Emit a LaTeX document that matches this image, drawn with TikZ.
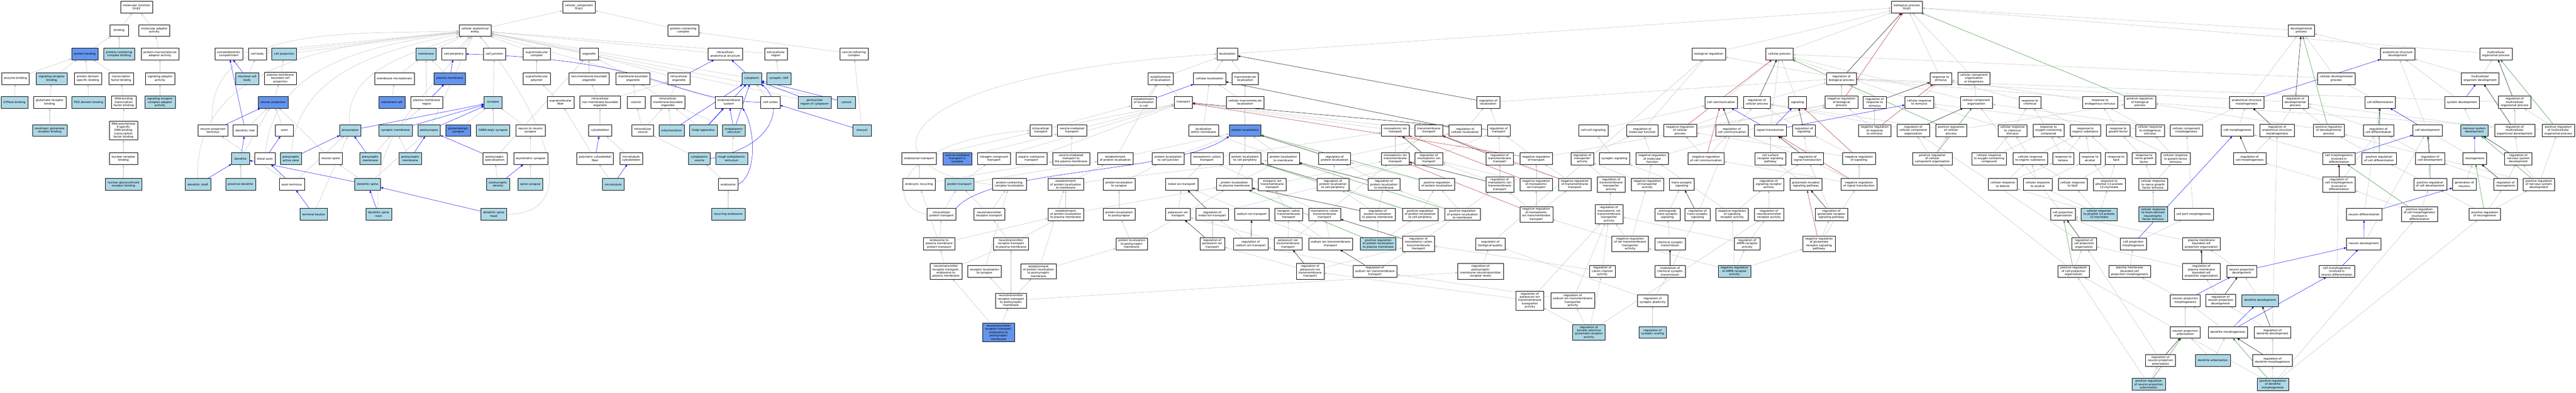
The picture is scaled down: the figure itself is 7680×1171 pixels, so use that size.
\documentclass[tikz,border=0pt]{standalone}
\usepackage{fontspec}
\setmainfont{DejaVu Sans}
\usetikzlibrary{arrows.meta,shadows}
\definecolor{lblue}{HTML}{ADD8E6}
\definecolor{cblue}{HTML}{6495ED}
\definecolor{egrey}{HTML}{C0C0C0}
\definecolor{ered}{HTML}{B22222}
\definecolor{egreen}{HTML}{228B22}
\definecolor{eblue}{HTML}{0000FF}
\pgfdeclarelayer{bg}
\pgfdeclarelayer{canvas}
\pgfsetlayers{canvas,bg,main}
\tikzset{
 bx/.style={draw=black,line width=0.6pt,align=center,font=\fontsize{8.5}{9.8}\selectfont,inner xsep=7pt,inner ysep=4.5pt,minimum height=35pt,minimum width=54pt,drop shadow={shadow xshift=1.2pt,shadow yshift=-1.2pt,fill=black!60,opacity=0.7}},
 bxw/.style={bx,fill=white},
 bxl/.style={bx,fill=lblue},
 bxc/.style={bx,fill=cblue},
 rel/.style={line width=0.75pt,-{Triangle[length=7pt,width=5.5pt]}},
 isa/.style={rel,draw=egrey},
 partof/.style={rel,draw=eblue},
 regl/.style={rel,draw=black},
 negr/.style={rel,draw=ered},
 posr/.style={rel,draw=egreen}
}
\begin{document}
\begin{tikzpicture}[x=1pt,y=-1pt]
\begin{pgfonlayer}{canvas}
\fill[white] (0,0) rectangle (7680,1171);
\end{pgfonlayer}
\useasboundingbox (0,0) rectangle (7680,1171);
% ---------------- molecular function
\node[bxw] (mf) at (407,21) {molecular\_function\\Grip1};
\node[bxw] (binding) at (355,91) {binding};
\node[bxw] (molad) at (460,91) {molecular adaptor\\activity};
\node[bxc] (protb) at (253,161) {protein binding};
\node[bxl] (pccb) at (355,161) {protein-containing\\complex binding};
\node[bxw] (pmaa) at (477,161) {protein-macromolecule\\adaptor activity};
\node[bxw] (enzb) at (46,234) {enzyme binding};
\node[bxl] (sigrb) at (154,234) {signaling receptor\\binding};
\node[bxw] (pdsb) at (262,234) {protein domain\\specific binding};
\node[bxw] (tfb) at (361,234) {transcription\\factor binding};
\node[bxw] (sigad) at (477,234) {signaling adaptor\\activity};
\node[bxl] (gtpb) at (43,305) {GTPase binding};
\node[bxw] (glurb) at (148,305) {glutamate receptor\\binding};
\node[bxl] (pdzb) at (264,305) {PDZ domain binding};
\node[bxw] (dbtfb) at (369,305) {DNA-binding\\transcription\\factor binding};
\node[bxl] (srcaa) at (477,305) {signaling receptor\\complex adaptor\\activity};
\node[bxl] (iglurb) at (148,389) {ionotropic glutamate\\receptor binding};
\node[bxw] (rnapol) at (368,389) {RNA polymerase\\II-specific\\DNA-binding\\transcription\\factor binding};
\node[bxw] (nrb) at (368,473) {nuclear receptor\\binding};
\node[bxl] (ngrb) at (368,550) {nuclear glucocorticoid\\receptor binding};
% ---------------- cellular component
\node[bxw] (cc) at (1726,21) {cellular\_component\\Grip1};
\node[bxw] (cae) at (1416,91) {cellular anatomical\\entity};
\node[bxw] (pcc) at (2037,91) {protein-containing\\complex};
\node[bxw] (somato) at (682,161) {somatodendritic\\compartment};
\node[bxw] (cellbody) at (767,161) {cell body};
\node[bxl] (cellproj) at (847,161) {cell projection};
\node[bxl] (membrane) at (1270,161) {membrane};
\node[bxw] (cellper) at (1353,161) {cell periphery};
\node[bxw] (celljunc) at (1474,161) {cell junction};
\node[bxw] (smcomplex) at (1600,161) {supramolecular\\complex};
\node[bxw] (organelle) at (1756,161) {organelle};
\node[bxw] (ias) at (2162,161) {intracellular\\anatomical structure};
\node[bxw] (extreg) at (2313,161) {extracellular\\region};
\node[bxw] (vtc) at (2546,161) {vesicle tethering\\complex};
\node[bxl] (ncb) at (737,234) {neuronal cell\\body};
\node[bxw] (pmbcp) at (836,234) {plasma membrane\\bounded cell\\projection};
\node[bxw] (memmicro) at (1176,234) {membrane microdomain};
\node[bxc] (pm) at (1341,234) {plasma membrane};
\node[bxw] (smpoly) at (1600,234) {supramolecular\\polymer};
\node[bxw] (nmbo) at (1756,234) {non-membrane-bounded\\organelle};
\node[bxw] (mbo) at (1887,234) {membrane-bounded\\organelle};
\node[bxw] (intorg) at (2024,234) {intracellular\\organelle};
\node[bxl] (cytoplasm) at (2241,234) {cytoplasm};
\node[bxl] (syncleft) at (2322,234) {synaptic cleft};
\node[bxc] (neuproj) at (814,305) {neuron projection};
\node[bxc] (memraft) at (1168,305) {membrane raft};
\node[bxw] (pmreg) at (1272,305) {plasma membrane\\region};
\node[bxl] (synapse) at (1470,305) {synapse};
\node[bxw] (smfiber) at (1671,305) {supramolecular\\fiber};
\node[bxw] (inmbo) at (1789,305) {intracellular\\non-membrane-bounded\\organelle};
\node[bxw] (vesicle) at (1896,305) {vesicle};
\node[bxw] (imbo) at (1991,305) {intracellular\\membrane-bounded\\organelle};
\node[bxw] (endomem) at (2173,305) {endomembrane\\system};
\node[bxw] (cellcortex) at (2297,305) {cell cortex};
\node[bxl] (perinuc) at (2429,305) {perinuclear\\region of cytoplasm};
\node[bxl] (cytosol) at (2523,305) {cytosol};
\node[bxw] (npterm) at (635,389) {neuron projection\\terminus};
\node[bxw] (dtree) at (731,389) {dendritic tree};
\node[bxw] (axon) at (848,389) {axon};
\node[bxl] (presyn) at (1044,389) {presynapse};
\node[bxl] (synmem) at (1179,389) {synaptic membrane};
\node[bxl] (postsyn) at (1279,389) {postsynapse};
\node[bxc] (gluts) at (1366,389) {glutamatergic\\synapse};
\node[bxl] (gabas) at (1470,389) {GABA-ergic synapse};
\node[bxw] (n2ns) at (1581,389) {neuron to neuron\\synapse};
\node[bxw] (cytoskel) at (1789,389) {cytoskeleton};
\node[bxw] (intves) at (1916,389) {intracellular\\vesicle};
\node[bxl] (mito) at (2002,389) {mitochondrion};
\node[bxl] (golgi) at (2097,389) {Golgi apparatus};
\node[bxl] (er) at (2188,389) {endoplasmic\\reticulum};
\node[bxl] (exocyst) at (2570,389) {exocyst};
\node[bxl] (dendrite) at (717,473) {dendrite};
\node[bxw] (distaxon) at (790,473) {distal axon};
\node[bxl] (paz) at (867,473) {presynaptic\\active zone};
\node[bxw] (nspine) at (986,473) {neuron spine};
\node[bxl] (presynmem) at (1104,473) {presynaptic\\membrane};
\node[bxl] (postsynmem) at (1223,473) {postsynaptic\\membrane};
\node[bxw] (pss) at (1475,473) {postsynaptic\\specialization};
\node[bxw] (asyms) at (1582,473) {asymmetric synapse};
\node[bxw] (pcf) at (1774,473) {polymeric cytoskeletal\\fiber};
\node[bxw] (mtcs) at (1882,473) {microtubule\\cytoskeleton};
\node[bxl] (cytves) at (2085,473) {cytoplasmic\\vesicle};
\node[bxl] (rer) at (2181,473) {rough endoplasmic\\reticulum};
\node[bxl] (dshaft) at (590,550) {dendritic shaft};
\node[bxl] (proxd) at (717,550) {proximal dendrite};
\node[bxw] (axterm) at (870,550) {axon terminus};
\node[bxl] (dspine) at (1096,550) {dendritic spine};
\node[bxl] (psd) at (1485,550) {postsynaptic\\density};
\node[bxl] (spines) at (1581,550) {spine synapse};
\node[bxl] (microtub) at (1828,550) {microtubule};
\node[bxw] (endosome) at (2171,550) {endosome};
\node[bxl] (tbouton) at (935,639) {terminal bouton};
\node[bxl] (dsneck) at (1129,639) {dendritic spine\\neck};
\node[bxl] (dshead) at (1472,639) {dendritic spine\\head};
\node[bxl] (recendo) at (2171,639) {recycling endosome};
% ---------------- biological process
\node[bxw] (bp) at (5685,21) {biological\_process\\Grip1};
\node[bxw] (devproc) at (6861,91) {developmental\\process};
\node[bxw] (localization) at (3659,161) {localization};
\node[bxw] (bioreg) at (5094,161) {biological regulation};
\node[bxw] (cellproc) at (5305,161) {cellular process};
\node[bxw] (asdev) at (7148,161) {anatomical structure\\development};
\node[bxw] (mcop) at (7441,161) {multicellular\\organismal process};
\node[bxw] (estloc) at (3460,234) {establishment\\of localization};
\node[bxw] (cellloc) at (3606,234) {cellular localization};
\node[bxw] (macroloc) at (3712,234) {macromolecule\\localization};
\node[bxw] (regbp) at (5490,234) {regulation of\\biological process};
\node[bxw] (respstim) at (5786,234) {response to\\stimulus};
\node[bxw] (ccob) at (5885,234) {cellular component\\organization\\or biogenesis};
\node[bxw] (celldev) at (6965,234) {cellular developmental\\process};
\node[bxw] (mcod) at (7394,234) {multicellular\\organism development};
\node[bxw] (elic) at (3410,305) {establishment\\of localization\\in cell};
\node[bxw] (transport) at (3528,305) {transport};
\node[bxw] (cmloc) at (3712,305) {cellular macromolecule\\localization};
\node[bxw] (regloc) at (4437,305) {regulation of\\localization};
\node[bxw] (cellcomm) at (5131,305) {cell communication};
\node[bxw] (regcp) at (5238,305) {regulation of\\cellular process};
\node[bxw] (signaling) at (5359,305) {signaling};
\node[bxw] (nregbp) at (5490,305) {negative regulation\\of biological\\process};
\node[bxw] (regrs) at (5589,305) {regulation of\\response to\\stimulus};
\node[bxw] (cellrs) at (5722,305) {cellular response\\to stimulus};
\node[bxw] (cco) at (5892,305) {cellular component\\organization};
\node[bxw] (respchem) at (6052,305) {response to\\chemical};
\node[bxw] (respendo) at (6261,305) {response to\\endogenous stimulus};
\node[bxw] (pregbp) at (6380,305) {positive regulation\\of biological\\process};
\node[bxw] (asmorph) at (6698,305) {anatomical structure\\morphogenesis};
\node[bxw] (regdp) at (6843,305) {regulation of\\developmental\\process};
\node[bxw] (celldiff) at (7096,305) {cell differentiation};
\node[bxw] (sysdev) at (7340,305) {system development};
\node[bxw] (regmop) at (7497,305) {regulation of\\multicellular\\organismal process};
\node[bxw] (intrans) at (3103,389) {intracellular\\transport};
\node[bxw] (vmt) at (3196,389) {vesicle-mediated\\transport};
\node[bxw] (locwm) at (3588,389) {localization\\within membrane};
\node[bxc] (protloc) at (3712,389) {protein localization};
\node[bxw] (miont) at (4160,389) {monoatomic ion\\transport};
\node[bxw] (tmt) at (4260,389) {transmembrane\\transport};
\node[bxw] (regcl) at (4368,389) {regulation of\\cellular localization};
\node[bxw] (regtr) at (4468,389) {regulation of\\transport};
\node[bxw] (ccsig) at (4750,389) {cell-cell signaling};
\node[bxw] (regmf) at (4896,389) {regulation of\\molecular function};
\node[bxw] (nregcp) at (5009,389) {negative regulation\\of cellular\\process};
\node[bxw] (regcc) at (5163,389) {regulation of\\cell communication};
\node[bxw] (sigtrans) at (5278,389) {signal transduction};
\node[bxw] (regsig) at (5378,389) {regulation of\\signaling};
\node[bxw] (nregrs) at (5589,389) {negative regulation\\of response\\to stimulus};
\node[bxw] (regcco) at (5704,389) {regulation of\\cellular component\\organization};
\node[bxw] (pregcp) at (5817,389) {positive regulation\\of cellular\\process};
\node[bxw] (crchem) at (6000,389) {cellular response\\to chemical\\stimulus};
\node[bxw] (respoxy) at (6107,389) {response to\\oxygen-containing\\compound};
\node[bxw] (resporg) at (6217,389) {response to\\organic substance};
\node[bxw] (respgf) at (6315,389) {response to\\growth factor};
\node[bxw] (crendo) at (6410,389) {cellular response\\to endogenous\\stimulus};
\node[bxw] (ccmorph) at (6518,389) {cellular component\\morphogenesis};
\node[bxw] (cellmorph) at (6671,389) {cell morphogenesis};
\node[bxw] (regasm) at (6789,389) {regulation of\\anatomical structure\\morphogenesis};
\node[bxw] (pregdp) at (6943,389) {positive regulation\\of developmental\\process};
\node[bxw] (regcdiff) at (7091,389) {regulation of\\cell differentiation};
\node[bxw] (celldevt) at (7237,389) {cell development};
\node[bxl] (nsd) at (7377,389) {nervous system\\development};
\node[bxw] (regmod) at (7497,389) {regulation of\\multicellular\\organismal development};
\node[bxw] (pregmop) at (7627,389) {positive regulation\\of multicellular\\organismal process};
\node[bxw] (endot) at (2740,473) {endosomal transport};
\node[bxc] (vmtsyn) at (2854,473) {vesicle-mediated\\transport in\\synapse};
\node[bxw] (nct) at (2963,473) {nitrogen compound\\transport};
\node[bxw] (ost) at (3075,473) {organic substance\\transport};
\node[bxw] (vmtpm) at (3193,473) {vesicle-mediated\\transport to\\the plasma membrane};
\node[bxw] (epl) at (3325,473) {establishment\\of protein localization};
\node[bxw] (plcj) at (3483,473) {protein localization\\to cell junction};
\node[bxw] (mcat) at (3598,473) {monoatomic cation\\transport};
\node[bxw] (plcp) at (3712,473) {protein localization\\to cell periphery};
\node[bxw] (plmem) at (3826,473) {protein localization\\to membrane};
\node[bxw] (regpl) at (3979,473) {regulation of\\protein localization};
\node[bxw] (miontm) at (4160,473) {monoatomic ion\\transmembrane\\transport};
\node[bxw] (regmiont) at (4260,473) {regulation of\\monoatomic ion\\transport};
\node[bxw] (regtmt) at (4471,473) {regulation of\\transmembrane\\transport};
\node[bxw] (nregtr) at (4580,473) {negative regulation\\of transport};
\node[bxw] (regtra) at (4717,473) {regulation of\\transporter\\activity};
\node[bxw] (synsig) at (4813,473) {synaptic signaling};
\node[bxw] (nregmf) at (4926,473) {negative regulation\\of molecular\\function};
\node[bxw] (nregcc) at (5086,473) {negative regulation\\of cell communication};
\node[bxw] (csrsp) at (5278,473) {cell surface\\receptor signaling\\pathway};
\node[bxw] (regst) at (5389,473) {regulation of\\signal transduction};
\node[bxw] (nregsig) at (5542,473) {negative regulation\\of signaling};
\node[bxw] (pregcco) at (5761,473) {positive regulation\\of cellular\\component organization};
\node[bxw] (croxy) at (5930,473) {cellular response\\to oxygen-containing\\compound};
\node[bxw] (crorg) at (6053,473) {cellular response\\to organic substance};
\node[bxw] (respket) at (6151,473) {response to\\ketone};
\node[bxw] (respalc) at (6231,473) {response to\\alcohol};
\node[bxw] (resplip) at (6309,473) {response to\\lipid};
\node[bxw] (respngf) at (6392,473) {response to\\nerve growth\\factor};
\node[bxw] (crgf) at (6486,473) {cellular response\\to growth factor\\stimulus};
\node[bxw] (regcm) at (6707,473) {regulation of\\cell morphogenesis};
\node[bxw] (cmid) at (6973,473) {cell morphogenesis\\involved in\\differentiation};
\node[bxw] (pregcdiff) at (7093,473) {positive regulation\\of cell differentiation};
\node[bxw] (regcdev) at (7245,473) {regulation of\\cell development};
\node[bxw] (neurogen) at (7378,473) {neurogenesis};
\node[bxw] (regnsd) at (7508,473) {regulation of\\nervous system\\development};
\node[bxw] (endorec) at (2740,550) {endocytic recycling};
\node[bxl] (prottr) at (2860,550) {protein transport};
\node[bxw] (pccloc) at (3009,550) {protein-containing\\complex localization};
\node[bxw] (epltm) at (3177,550) {establishment\\of protein localization\\to membrane};
\node[bxw] (plsyn) at (3336,550) {protein localization\\to synapse};
\node[bxw] (metaliont) at (3523,550) {metal ion transport};
\node[bxw] (plpm) at (3680,550) {protein localization\\to plasma membrane};
\node[bxw] (iontm) at (3793,550) {inorganic ion\\transmembrane\\transport};
\node[bxw] (regplcp) at (3974,550) {regulation of\\protein localization\\to cell periphery};
\node[bxw] (regplm) at (4126,550) {regulation of\\protein localization\\to membrane};
\node[bxw] (pregpl) at (4284,550) {positive regulation\\of protein localization};
\node[bxw] (regmiontm) at (4471,550) {regulation of\\monoatomic ion\\transmembrane\\transport};
\node[bxw] (nregmiont) at (4580,550) {negative regulation\\of monoatomic\\ion transport};
\node[bxw] (nregtmt) at (4695,550) {negative regulation\\of transmembrane\\transport};
\node[bxw] (regtmta) at (4803,550) {regulation of\\transmembrane\\transporter\\activity};
\node[bxw] (nregta) at (4911,550) {negative regulation\\of transporter\\activity};
\node[bxw] (tss) at (5014,550) {trans-synaptic\\signaling};
\node[bxw] (regsra) at (5273,550) {regulation of\\signaling receptor\\activity};
\node[bxw] (glursp) at (5384,550) {glutamate receptor\\signaling pathway};
\node[bxw] (nregst) at (5542,550) {negative regulation\\of signal transduction};
\node[bxw] (crket) at (5971,550) {cellular response\\to ketone};
\node[bxw] (cralc) at (6075,550) {cellular response\\to alcohol};
\node[bxw] (crlip) at (6179,550) {cellular response\\to lipid};
\node[bxw] (respptm) at (6288,550) {response to\\phorbol 13-acetate\\12-myristate};
\node[bxw] (crngf) at (6419,550) {cellular response\\to nerve growth\\factor stimulus};
\node[bxw] (regcmid) at (6973,550) {regulation of\\cell morphogenesis\\involved in\\differentiation};
\node[bxw] (pregcdev) at (7245,550) {positive regulation\\of cell development};
\node[bxw] (genneur) at (7347,550) {generation of\\neurons};
\node[bxw] (regneurog) at (7470,550) {regulation of\\neurogenesis};
\node[bxw] (pregnsd) at (7569,550) {positive regulation\\of nervous system\\development};
\node[bxw] (intpt) at (2807,639) {intracellular\\protein transport};
\node[bxw] (ntrt) at (2949,639) {neurotransmitter\\receptor transport};
\node[bxw] (eplpm) at (3177,639) {establishment\\of protein localization\\to plasma membrane};
\node[bxw] (plps) at (3336,639) {protein localization\\to postsynapse};
\node[bxw] (kiont) at (3512,639) {potassium ion\\transport};
\node[bxw] (regmetal) at (3614,639) {regulation of\\metal ion transport};
\node[bxw] (naiont) at (3732,639) {sodium ion transport};
\node[bxw] (ictm) at (3842,639) {inorganic cation\\transmembrane\\transport};
\node[bxw] (mctm) at (3949,639) {monoatomic cation\\transmembrane\\transport};
\node[bxw] (regplpm) at (4107,639) {regulation of\\protein localization\\to plasma membrane};
\node[bxw] (pregplcp) at (4234,639) {positive regulation\\of protein localization\\to cell periphery};
\node[bxw] (pregplm) at (4360,639) {positive regulation\\of protein localization\\to membrane};
\node[bxw] (nregmiontm) at (4580,639) {negative regulation\\of monoatomic\\ion transmembrane\\transport};
\node[bxw] (regmiontma) at (4797,639) {regulation of\\monoatomic ion\\transmembrane\\transporter\\activity};
\node[bxw] (atss) at (4971,639) {anterograde\\trans-synaptic\\signaling};
\node[bxw] (regtss) at (5061,639) {regulation of\\trans-synaptic\\signaling};
\node[bxw] (nregsra) at (5164,639) {negative regulation\\of signaling\\receptor activity};
\node[bxw] (regntra) at (5274,639) {regulation of\\neurotransmitter\\receptor activity};
\node[bxw] (regglursp) at (5460,639) {regulation of\\glutamate receptor\\signaling pathway};
\node[bxw] (cpo) at (6150,639) {cell projection\\organization};
\node[bxl] (crptm) at (6258,639) {cellular response\\to phorbol 13-acetate\\12-myristate};
\node[bxl] (crbdnf) at (6419,639) {cellular response\\to brain-derived\\neurotrophic\\factor stimulus};
\node[bxw] (cpm) at (6540,639) {cell part morphogenesis};
\node[bxw] (neurdiff) at (7048,639) {neuron differentiation};
\node[bxw] (pregcmid) at (7213,639) {positive regulation\\of cell morphogenesis\\involved in\\differentiation};
\node[bxw] (pregneurog) at (7408,639) {positive regulation\\of neurogenesis};
\node[bxw] (e2pm) at (2800,727) {endosome to\\plasma membrane\\protein transport};
\node[bxw] (ntrtpm) at (3014,727) {neurotransmitter\\receptor transport\\to plasma membrane};
\node[bxw] (plpsm) at (3374,727) {protein localization\\to postsynaptic\\membrane};
\node[bxw] (regkiont) at (3614,727) {regulation of\\potassium ion\\transport};
\node[bxw] (regnaiont) at (3729,727) {regulation of\\sodium ion transport};
\node[bxw] (ktm) at (3840,727) {potassium ion\\transmembrane\\transport};
\node[bxw] (natm) at (3967,727) {sodium ion transmembrane\\transport};
\node[bxl] (pregplpm) at (4109,727) {positive regulation\\of protein localization\\to plasma membrane};
\node[bxw] (regmctm) at (4229,727) {regulation of\\monoatomic cation\\transmembrane\\transport};
\node[bxw] (regbq) at (4443,727) {regulation of\\biological quality};
\node[bxw] (nregitta) at (4860,727) {negative regulation\\of ion transmembrane\\transporter\\activity};
\node[bxw] (cst) at (4979,727) {chemical synaptic\\transmission};
\node[bxw] (regampa) at (5209,727) {regulation of\\AMPA receptor\\activity};
\node[bxw] (nregglursp) at (5423,727) {negative regulation\\of glutamate\\receptor signaling\\pathway};
\node[bxw] (regcpo) at (6213,727) {regulation of\\cell projection\\organization};
\node[bxw] (cpmorph) at (6360,727) {cell projection\\morphogenesis};
\node[bxw] (pmbcpo) at (6563,727) {plasma membrane\\bounded cell\\projection organization};
\node[bxw] (neurdev) at (7047,727) {neuron development};
\node[bxw] (ntre2pm) at (2820,809) {neurotransmitter\\receptor transport,\\endosome to\\plasma membrane};
\node[bxw] (rls) at (2935,809) {receptor localization\\to synapse};
\node[bxw] (eplpsm) at (3096,809) {establishment\\of protein localization\\to postsynaptic\\membrane};
\node[bxw] (regktm) at (3906,809) {regulation of\\potassium ion\\transmembrane\\transport};
\node[bxw] (regnatm) at (4099,809) {regulation of\\sodium ion transmembrane\\transport};
\node[bxw] (regpmntrl) at (4414,809) {regulation of\\postsynaptic\\membrane neurotransmitter\\receptor levels};
\node[bxw] (regcca) at (4777,809) {regulation of\\cation channel\\activity};
\node[bxw] (mcst) at (4979,809) {modulation of\\chemical synaptic\\transmission};
\node[bxl] (nregampa) at (5171,809) {negative regulation\\of AMPA receptor\\activity};
\node[bxw] (pregcpo) at (6182,809) {positive regulation\\of cell projection\\organization};
\node[bxw] (pmbcpm) at (6349,809) {plasma membrane\\bounded cell\\projection morphogenesis};
\node[bxw] (regpmbcpo) at (6563,809) {regulation of\\plasma membrane\\bounded cell\\projection organization};
\node[bxw] (npdev) at (6683,809) {neuron projection\\development};
\node[bxw] (cmind) at (6967,809) {cell morphogenesis\\involved in\\neuron differentiation};
\node[bxw] (ntrtpsm) at (3014,896) {neurotransmitter\\receptor transport\\to postsynaptic\\membrane};
\node[bxw] (regkitta) at (4561,896) {regulation of\\potassium ion\\transmembrane\\transporter\\activity};
\node[bxw] (regnatta) at (4689,896) {regulation of\\sodium ion transmembrane\\transporter\\activity};
\node[bxw] (regsp) at (4927,896) {regulation of\\synaptic plasticity};
\node[bxw] (npmorph) at (6515,896) {neuron projection\\morphogenesis};
\node[bxw] (regnpdev) at (6620,896) {regulation of\\neuron projection\\development};
\node[bxl] (dendev) at (6738,896) {dendrite development};
\node[bxc] (ntre2psm) at (2977,991) {neurotransmitter\\receptor transport,\\endosome to\\postsynaptic\\membrane};
\node[bxl] (regkainate) at (4737,991) {regulation of\\kainate selective\\glutamate receptor\\activity};
\node[bxl] (regss) at (4927,991) {regulation of\\synaptic scaling};
\node[bxw] (nparbor) at (6515,991) {neuron projection\\arborization};
\node[bxw] (denmorph) at (6642,991) {dendrite morphogenesis};
\node[bxw] (regdendev) at (6775,991) {regulation of\\dendrite development};
\node[bxw] (regnparbor) at (6441,1075) {regulation of\\neuron projection\\arborization};
\node[bxl] (denarbor) at (6597,1075) {dendrite arborization};
\node[bxw] (regdenmorph) at (6775,1075) {regulation of\\dendrite morphogenesis};
\node[bxl] (pregnparbor) at (6406,1146) {positive regulation\\of neuron projection\\arborization};
\node[bxl] (pregdenmorph) at (6776,1146) {positive regulation\\of dendrite\\morphogenesis};
% ---------------- connectors
\begin{pgfonlayer}{bg}
\foreach \a/\b in {binding/mf,molad/mf,protb/binding,pccb/binding,pmaa/molad,enzb/protb,sigrb/protb,pdsb/protb,tfb/protb,sigad/pmaa,gtpb/enzb,glurb/sigrb,pdzb/pdsb,dbtfb/tfb,srcaa/sigad,iglurb/glurb,rnapol/dbtfb,nrb/rnapol,ngrb/nrb,
cae/cc,pcc/cc,somato/cae,cellbody/cae,cellproj/cae,membrane/cae,cellper/cae,celljunc/cae,smcomplex/cae,organelle/cae,ncb/cellbody,pmbcp/cellproj,memmicro/membrane,pm/membrane,smpoly/smcomplex,nmbo/organelle,mbo/organelle,neuproj/pmbcp,memraft/memmicro,pmreg/membrane,synapse/celljunc,smfiber/smpoly,inmbo/nmbo,inmbo/intorg,dtree/neuproj,axon/neuproj,synmem/pmreg,postsyn/cae,gluts/synapse,gabas/synapse,n2ns/synapse,cytoskel/inmbo,dendrite/neuproj,nspine/neuproj,presynmem/synmem,postsynmem/synmem,pss/organelle,asyms/n2ns,pcf/smfiber,mtcs/cytoskel,proxd/dendrite,axterm/npterm,axterm/presyn,dspine/nspine,dspine/postsyn,psd/pss,spines/asyms,microtub/pcf,tbouton/presyn,ias/cae,extreg/cae,vtc/pcc,intorg/organelle,cytoplasm/cae,syncleft/extreg,vesicle/mbo,imbo/mbo,imbo/intorg,endomem/cae,cellcortex/cytoplasm,perinuc/cae,cytosol/cae,intves/vesicle,intves/imbo,mito/imbo,golgi/imbo,er/imbo,exocyst/vtc,cytves/intves,rer/er,endosome/cytves,recendo/endosome,
intrans/elic,intrans/transport,endot/intrans,vmtsyn/vmt,nct/transport,ost/transport,endorec/endot,endorec/vmtpm,prottr/nct,prottr/epl,intpt/prottr,ntrt/prottr,ntrt/pccloc,e2pm/intpt,e2pm/endorec,e2pm/eplpm,ntrtpm/ntrt,ntrtpm/eplpm,ntre2pm/e2pm,ntre2pm/ntrtpm,rls/pccloc,eplpsm/epltm,eplpsm/plpsm,ntrtpsm/ntrtpm,ntrtpsm/rls,ntrtpsm/eplpsm,ntrtpsm/regpmntrl,ntre2psm/ntre2pm,ntre2psm/ntrtpsm,
estloc/localization,cellloc/localization,macroloc/localization,localization/bp,elic/estloc,transport/estloc,cmloc/macroloc,cmloc/cellloc,regloc/regbp,vmt/transport,locwm/cellloc,protloc/macroloc,miont/transport,tmt/transport,regcl/regloc,regtr/regloc,vmtpm/vmt,epl/estloc,epl/protloc,plcj/protloc,mcat/miont,plcp/protloc,plmem/protloc,plmem/locwm,regpl/regcl,miontm/miont,miontm/tmt,regmiont/regtr,regtmt/regtr,epltm/epl,epltm/plmem,plsyn/plcj,metaliont/mcat,plpm/plcp,plpm/plmem,iontm/miontm,regplcp/regpl,regplm/regpl,pregpl/regpl,regmiontm/regmiont,regmiontm/regtmt,eplpm/epltm,eplpm/plpm,plps/plsyn,kiont/metaliont,regmetal/regmiont,naiont/metaliont,ictm/iontm,mctm/mcat,mctm/miontm,regplpm/regplcp,regplpm/regplm,pregplcp/regplcp,pregplcp/pregpl,pregplm/regplm,pregplm/pregpl,plpsm/plps,plpsm/plpm,regkiont/regmetal,regnaiont/regmetal,ktm/kiont,ktm/ictm,ktm/mctm,natm/naiont,natm/ictm,natm/mctm,pregplpm/regplpm,pregplpm/pregplcp,pregplpm/pregplm,regmctm/regmiontm,regktm/regkiont,regktm/regmctm,regnatm/regnaiont,regnatm/regmctm,regpmntrl/regbq,regbq/bioreg,
bioreg/bp,cellproc/bp,regbp/bioreg,nregbp/regbp,cellcomm/cellproc,regcp/regbp,signaling/cellproc,regrs/regbp,cellrs/respstim,cellrs/cellproc,ccsig/cellcomm,regmf/bioreg,nregcp/regcp,nregcp/nregbp,regcc/regcp,sigtrans/cellproc,regsig/regcp,nregrs/regrs,nregrs/nregbp,regcco/regcp,nregtr/regtr,nregtr/nregbp,regtra/regmf,synsig/ccsig,nregmf/regmf,nregmf/nregbp,nregcc/regcc,nregcc/nregcp,csrsp/sigtrans,regst/regsig,regst/regcc,nregsig/regsig,nregsig/nregcp,pregcco/regcco,pregcco/pregcp,nregmiont/nregtr,nregmiont/regmiont,nregtmt/nregtr,nregtmt/regtmt,regtmta/regtra,nregta/regtra,nregta/nregmf,tss/synsig,regsra/regst,glursp/csrsp,nregst/regst,nregst/nregsig,nregst/nregcc,nregmiontm/nregmiont,nregmiontm/nregtmt,nregmiontm/regmiontm,regmiontma/regtmta,atss/tss,regtss/regcc,nregsra/regsra,nregsra/nregmf,regntra/regsra,regglursp/regst,nregitta/nregta,nregitta/regmiontma,nregitta/nregmiontm,cst/atss,regampa/regntra,regampa/regmiontma,nregglursp/regglursp,nregglursp/nregst,regcca/regmiontma,regcca/regmctm,mcst/regtss,nregampa/regampa,nregampa/nregitta,nregampa/nregsra,nregampa/nregglursp,regkitta/regmiontma,regkitta/regktm,regnatta/regmiontma,regnatta/regnatm,regsp/mcst,regsp/regbq,regkainate/regkitta,regkainate/regnatta,regkainate/regcca,regkainate/regntra,regss/regsp,
devproc/bp,respstim/bp,ccob/bp,celldev/devproc,celldev/cellproc,cco/ccob,cco/cellproc,respchem/respstim,respendo/respstim,pregbp/regbp,asmorph/devproc,regdp/regbp,pregcp/regcp,pregcp/pregbp,crchem/respchem,crchem/cellrs,respoxy/respchem,resporg/respchem,respgf/respendo,crendo/respendo,crendo/cellrs,ccmorph/cco,ccmorph/asmorph,cellmorph/asmorph,regasm/regdp,pregdp/regdp,pregdp/pregbp,croxy/respoxy,croxy/crchem,crorg/resporg,crorg/crchem,respket/respoxy,respket/resporg,respalc/respoxy,respalc/resporg,resplip/resporg,respngf/respgf,crgf/respgf,crgf/crendo,regcm/regasm,cmid/cellmorph,crket/respket,crket/crorg,cralc/respalc,cralc/crorg,crlip/resplip,crlip/crorg,respptm/respalc,respptm/resplip,crngf/respngf,crngf/crgf,regcmid/regcm,regcmid/regcdiff,cpo/cco,crptm/respptm,crptm/cralc,crptm/crlip,crptm/crket,crbdnf/crngf,cpm/ccmorph,neurdiff/celldiff,regcpo/regcco,cpmorph/cpo,cpmorph/cpm,pmbcpo/cpo,neurdev/celldevt,pregcpo/regcpo,pregcpo/pregcco,pmbcpm/cpmorph,regpmbcpo/regcpo,npdev/pmbcpo,cmind/cmid,npmorph/pmbcpm,regnpdev/regpmbcpo,dendev/npdev,nparbor/npmorph,denmorph/npmorph,regdendev/regnpdev,regdendev/regasm,regnparbor/regcpo,denarbor/nparbor,denarbor/denmorph,regdenmorph/regdendev,pregnparbor/regnparbor,pregnparbor/pregcpo,pregdenmorph/regdenmorph,pregdenmorph/pregcpo,pregdenmorph/pregneurog,pregdenmorph/pregcmid,asdev/devproc,mcop/bp,mcod/asdev,mcod/mcop,celldiff/celldev,sysdev/asdev,regmop/regbp,regcdiff/regdp,celldevt/asdev,nsd/sysdev,regmod/regmop,regmod/regdp,pregmop/regmop,pregmop/pregbp,pregcdiff/regcdiff,pregcdiff/pregdp,regcdev/regcdiff,neurogen/celldiff,regnsd/regmod,pregcdev/regcdev,pregcdev/pregcdiff,genneur/neurogen,regneurog/regnsd,regneurog/regcdev,pregnsd/regnsd,pregnsd/pregmop,pregnsd/pregdp,pregcmid/regcmid,pregcmid/pregcdev,pregneurog/regneurog,pregneurog/pregnsd,pregneurog/pregcdev}
  \draw[isa] (\a) -- (\b);
% curved grey connectors
\draw[isa] (npterm) to[out=95,in=182] (cae);
\draw[isa] (dshaft) to[out=92,in=185] (cae);
\draw[isa] (distaxon) to[out=85,in=188] (cae);
\draw[isa] (paz) to[out=85,in=192] (cae);
\draw[isa] (presyn) to[out=95,in=200] (cae);
\draw[isa] (dsneck) to[out=95,in=235] (cae);
\draw[isa] (dshead.east) to[out=0,in=-50,looseness=1.2] (cae);
\draw[isa] (pccloc.west) .. controls (2600,520) and (2560,230) .. (localization.west);
\draw[isa] (intpt.west) .. controls (2640,620) and (2650,420) .. (intrans.west);
% part of
\foreach \a/\b in {ncb/somato,pm/cellper,pmreg/pm,npterm/neuproj,dtree/somato,presyn/synapse,synmem/synapse,postsyn/synapse,dendrite/dtree,distaxon/axon,paz/presyn,presynmem/presyn,postsynmem/postsyn,pss/postsyn,pcf/cytoskel,dshaft/dendrite,axterm/distaxon,dspine/dendrite,psd/asyms,microtub/mtcs,tbouton/axterm,dsneck/dspine,dshead/dspine,intorg/ias,cytoplasm/ias,perinuc/cytoplasm,cytosol/cytoplasm,mito/cytoplasm,golgi/cytoplasm,golgi/endomem,er/endomem,er/cytoplasm,exocyst/cellcortex,
elic/cellloc,sigtrans/cellcomm,sigtrans/signaling,sigtrans/cellrs,asmorph/asdev,cpmorph/cellmorph,neurdev/neurdiff,npdev/neurdev,cmind/neurdev,npmorph/npdev,denmorph/dendev,denmorph/cmind,cmid/celldevt,sysdev/mcod,celldevt/celldiff,neurogen/nsd,neurdiff/genneur}
  \draw[partof] (\a) -- (\b);
\draw[partof] (cellcortex.west) .. controls (2000,300) and (1980,180) .. (cellper.east);
\draw[partof] (cytves.east) .. controls (2330,430) and (2330,300) .. (cytoplasm.south east);
\draw[partof] (endosome.east) .. controls (2260,520) and (2250,380) .. (endomem.south east);
\draw[partof] (intpt.north east) .. controls (2950,500) and (3500,520) .. (protloc.south west);
% regulates
\foreach \a/\b in {regloc/localization,regcl/cellloc,regtr/transport,regpl/protloc,regmiont/miont,regtmt/tmt,regplcp/plcp,regplm/plmem,regmiontm/miontm,regmetal/metaliont,regplpm/plpm,regkiont/kiont,regnaiont/naiont,regmctm/mctm,regktm/ktm,regnatm/natm,regbp/bp,regcp/cellproc,regrs/respstim,regcc/cellcomm,regsig/signaling,regcco/cco,regst/sigtrans,regtss/tss,regglursp/glursp,mcst/cst,regdp/devproc,regasm/asmorph,regcm/cellmorph,regcmid/cmid,regcpo/cpo,regpmbcpo/pmbcpo,regnpdev/npdev,regdendev/dendev,regnparbor/nparbor,regdenmorph/denmorph,regmop/mcop,regcdiff/celldiff,regmod/mcod,regcdev/celldevt,regnsd/nsd,regneurog/neurogen}
  \draw[regl] (\a) -- (\b);
% negatively regulates
\foreach \a/\b in {nregbp/bp,nregcp/cellproc,nregrs/respstim,nregcc/cellcomm,nregsig/signaling,nregst/sigtrans,nregtr/transport,nregmiont/miont,nregtmt/tmt,nregmiontm/miontm,nregglursp/glursp}
  \draw[negr] (\a) -- (\b);
% positively regulates
\foreach \a/\b in {pregbp/bp,pregcp/cellproc,pregcco/cco,pregpl/protloc,pregplcp/plcp,pregplm/plmem,pregplpm/plpm,pregdp/devproc,pregcpo/cpo,pregnparbor/nparbor,pregdenmorph/denmorph,pregmop/mcop,pregcdiff/celldiff,pregcdev/celldevt,pregnsd/nsd,pregcmid/cmid,pregneurog/neurogen}
  \draw[posr] (\a) -- (\b);
\end{pgfonlayer}
\end{tikzpicture}
\end{document}
